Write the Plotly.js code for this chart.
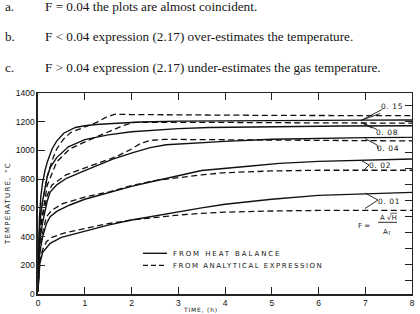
<!DOCTYPE html>
<html><head><meta charset="utf-8">
<script src="https://cdn.plot.ly/plotly-3.0.1.min.js"></script>
<style>body{margin:0;background:#fff}#chart{width:420px;height:314px}</style>
</head><body><div id="chart"></div>
<script>
// ---- data: heat balance (solid) and analytical expression (dashed), time in h, temperature in °C
const F_values = ['0.15','0.08','0.04','0.02','0.01'];

const t_hb_015 = [0,0.03,0.06,0.1,0.15,0.2,0.3,0.4,0.55,0.8,1.0,1.25,1.6,2.2,3,4,5,6,7,8];
const T_hb_015 = [20,520,680,780,860,920,1010,1065,1120,1160,1172,1181,1188,1198,1204,1207,1209,1210,1211,1212];
const t_an_015 = [0,0.03,0.06,0.1,0.2,0.3,0.4,0.55,0.7,0.97,1.25,1.45,1.65,2,3,5,8];
const T_an_015 = [20,420,560,650,820,930,1010,1080,1125,1160,1195,1230,1252,1250,1247,1244,1242];

const t_hb_008 = [0,0.03,0.06,0.1,0.2,0.26,0.4,0.65,1.0,1.32,1.5,2.0,2.5,3,3.66,5,6.5,8];
const T_hb_008 = [20,430,560,650,820,880,950,1025,1075,1095,1108,1130,1143,1152,1160,1166,1170,1172];
const t_an_008 = [0,0.03,0.06,0.1,0.2,0.4,0.68,1.04,1.5,1.8,2.05,2.5,4,6,8];
const T_an_008 = [20,360,480,560,760,920,1010,1065,1130,1170,1196,1197,1195,1192,1190];

const t_hb_004 = [0,0.03,0.06,0.1,0.2,0.26,0.4,0.61,1.0,1.32,1.6,2.03,2.4,2.74,3.45,4,5,6,7,8];
const T_hb_004 = [20,330,420,500,650,710,760,806,860,905,940,985,1020,1040,1055,1063,1078,1086,1089,1091];
const t_an_004 = [0,0.03,0.06,0.1,0.2,0.3,0.6,1.0,1.32,1.7,2.0,2.2,2.4,2.7,4,6,8];
const T_an_004 = [20,360,460,540,690,760,830,880,915,960,1010,1050,1070,1077,1074,1070,1066];

const t_hb_002 = [0,0.03,0.06,0.1,0.18,0.26,0.4,0.68,1.0,1.32,1.53,2.0,2.4,3,3.5,4.5,5.16,6,7,8];
const T_hb_002 = [20,260,330,400,490,538,575,620,660,690,705,750,780,825,860,890,910,924,933,940];
const t_an_002 = [0,0.03,0.06,0.1,0.18,0.3,0.54,1.0,1.53,2.0,2.5,3,3.5,4,5,6,8];
const T_an_002 = [20,280,360,430,538,585,631,675,712,755,790,812,830,845,857,862,862];

const t_hb_001 = [0,0.02,0.04,0.1,0.26,0.5,0.68,1.0,1.5,2.0,2.5,3,3.5,4,5,6,7,8];
const T_hb_001 = [20,170,214,290,353,395,411,440,480,515,545,575,600,625,660,687,700,708];
const t_an_001 = [0,0.02,0.05,0.1,0.18,0.3,0.54,1.0,1.5,2.0,2.5,3,3.5,4,5,6,8];
const T_an_001 = [20,180,250,310,364,395,423,455,490,515,535,550,562,570,578,582,583];

const xTicks = [0,1,2,3,4,5,6,7,8];
const yTicks = [0,200,400,600,800,1000,1200,1400];

// ---- geometry helpers (plot area in pixels)
const L=38, R=412, T0=93, B=294;
const px = p => (p-L)/(R-L);
const py = p => (B-p)/(B-T0);
const dx = p => (p-L)/(R-L)*8;
const dy = p => (B-p)/(B-T0)*1400;

const lineStyle = {color:'#111', width:1.4};
const dashStyle = {color:'#111', width:1.3, dash:'6px,3.5px'};
const series = [
  [t_hb_015,T_hb_015,t_an_015,T_an_015],
  [t_hb_008,T_hb_008,t_an_008,T_an_008],
  [t_hb_004,T_hb_004,t_an_004,T_an_004],
  [t_hb_002,T_hb_002,t_an_002,T_an_002],
  [t_hb_001,T_hb_001,t_an_001,T_an_001]
];
const traces = [];
series.forEach((s,i)=>{
  traces.push({x:s[0], y:s[1], mode:'lines', line:lineStyle, name:'F = '+F_values[i]+' heat balance', showlegend:false, hoverinfo:'skip'});
  traces.push({x:s[2], y:s[3], mode:'lines', line:dashStyle, name:'F = '+F_values[i]+' analytical', showlegend:false, hoverinfo:'skip'});
});
traces.push({x:[null], y:[null], yaxis:'y2', showlegend:false, hoverinfo:'skip'});

const sp = (s,ls) => '<span style="letter-spacing:'+ls+'px">'+s+'</span>';
const serif = {family:'Liberation Serif, Times New Roman, serif', size:13.2, color:'#151515'};
const small = {family:'DejaVu Sans, sans-serif', size:7, color:'#151515'};

const annotations = [];
const stmts = [
  ['a.', 'F = 0.04 the plots are almost coincident.', 7],
  ['b.', 'F &lt; 0.04 expression (2.17) over-estimates the temperature.', 37],
  ['c.', 'F &gt; 0.04 expression (2.17) under-estimates the gas temperature.', 67.5]
];
stmts.forEach(s=>{
  annotations.push({xref:'paper',yref:'paper',x:px(3),y:py(s[2]),xanchor:'left',yanchor:'middle',text:s[0],showarrow:false,font:serif});
  annotations.push({xref:'paper',yref:'paper',x:px(43),y:py(s[2]),xanchor:'left',yanchor:'middle',text:s[1],showarrow:false,font:serif});
});
// y-axis title
annotations.push({xref:'paper',yref:'paper',x:px(8),y:py(204),textangle:-90,xanchor:'center',yanchor:'middle',
  text:sp('TEMPERATURE, °C',1.2),showarrow:false,font:small});
// x-axis title (at the bottom edge, between tick labels 3 and 4)
annotations.push({xref:'paper',yref:'paper',x:px(200),y:py(314.5),xanchor:'center',yanchor:'bottom',
  text:sp('TIME, (h)',0.8),showarrow:false,font:{family:'DejaVu Sans, sans-serif',size:6,color:'#151515'}});
// legend texts
annotations.push({xref:'paper',yref:'paper',x:px(171),y:py(253.5),xanchor:'left',yanchor:'middle',
  text:sp('FROM HEAT BALANCE',1.9),showarrow:false,font:small});
annotations.push({xref:'paper',yref:'paper',x:px(171),y:py(265.5),xanchor:'left',yanchor:'middle',
  text:sp('FROM ANALYTICAL EXPRESSION',1.5),showarrow:false,font:small});
// F labels
const labelPx = [[392,106],[387,132],[388,148],[380,165.5],[389,201.5]];
F_values.forEach((f,i)=>{
  annotations.push({xref:'paper',yref:'paper',x:px(labelPx[i][0]),y:py(labelPx[i][1]),xanchor:'center',yanchor:'middle',
    text:sp(f.replace('.','. '),0.6),showarrow:false,font:{family:'DejaVu Sans, sans-serif',size:7.5,color:'#151515'}});
});
// formula F = A√H / A_T
annotations.push({xref:'paper',yref:'paper',x:px(363.5),y:py(225.5),xanchor:'center',yanchor:'middle',text:'F =',showarrow:false,font:small});
annotations.push({xref:'paper',yref:'paper',x:px(388),y:py(217.5),xanchor:'center',yanchor:'middle',text:'A √H',showarrow:false,font:small});
annotations.push({xref:'paper',yref:'paper',x:px(387),y:py(231.5),xanchor:'center',yanchor:'middle',text:'A<sub>T</sub>',showarrow:false,font:small});

const shapes = [];
const seg = (x0,y0,x1,y1,w) => shapes.push({type:'line',xref:'x',yref:'y',x0:dx(x0),y0:dy(y0),x1:dx(x1),y1:dy(y1),line:{color:'#151515',width:w||0.9}});
// leader lines
seg(361,120.5,382,109.5); seg(361,120.5,380,113.5);
seg(361,122,377,129.5); seg(363,123.5,372,128);
seg(365,138.5,377,145); seg(377,145,378,149);
seg(361.5,160.5,369,165); seg(369,165,363,171);
seg(365,193,378,200); seg(378,200,365,208.5);
// formula bar and root overline
seg(378,222.3,397,222.3,0.9);
seg(390.5,213.2,397,213.2,0.7);
// legend samples
seg(143,253.3,167,253.3,1.4);
shapes.push({type:'line',xref:'x',yref:'y',x0:dx(143),y0:dy(265.3),x1:dx(167),y1:dy(265.3),line:{color:'#111',width:1.3,dash:'5px,3px'}});

const tickFont = {family:'Liberation Sans, Arial, sans-serif', size:8.5, color:'#111'};
const layout = {
  width:420, height:314,
  margin:{l:L, r:420-R, t:T0, b:314-B, pad:0},
  paper_bgcolor:'#fff', plot_bgcolor:'#fff',
  showlegend:false,
  xaxis:{range:[0,8], tickvals:xTicks, ticktext:xTicks.map(String), ticks:'inside', ticklen:7, tickwidth:1,
    tickcolor:'#222', showline:true, linecolor:'#222', linewidth:1.5, mirror:'ticks', showgrid:false, zeroline:false,
    tickfont:tickFont, fixedrange:true},
  yaxis:{range:[0,1400], tickvals:yTicks, ticktext:yTicks.map(String), ticks:'inside', ticklen:7, tickwidth:1,
    tickcolor:'#222', showline:true, linecolor:'#222', linewidth:1.6, showgrid:false, zeroline:false,
    tickfont:tickFont, fixedrange:true},
  yaxis2:{overlaying:'y', side:'right', range:[32,2552], tick0:0, dtick:200, ticks:'inside', ticklen:7, tickwidth:1,
    tickcolor:'#222', showline:true, linecolor:'#222', linewidth:1.2, showticklabels:false, showgrid:false, zeroline:false, fixedrange:true},
  annotations:annotations,
  shapes:shapes
};
Plotly.newPlot('chart', traces, layout, {staticPlot:true, displayModeBar:false});
</script>
</body></html>
